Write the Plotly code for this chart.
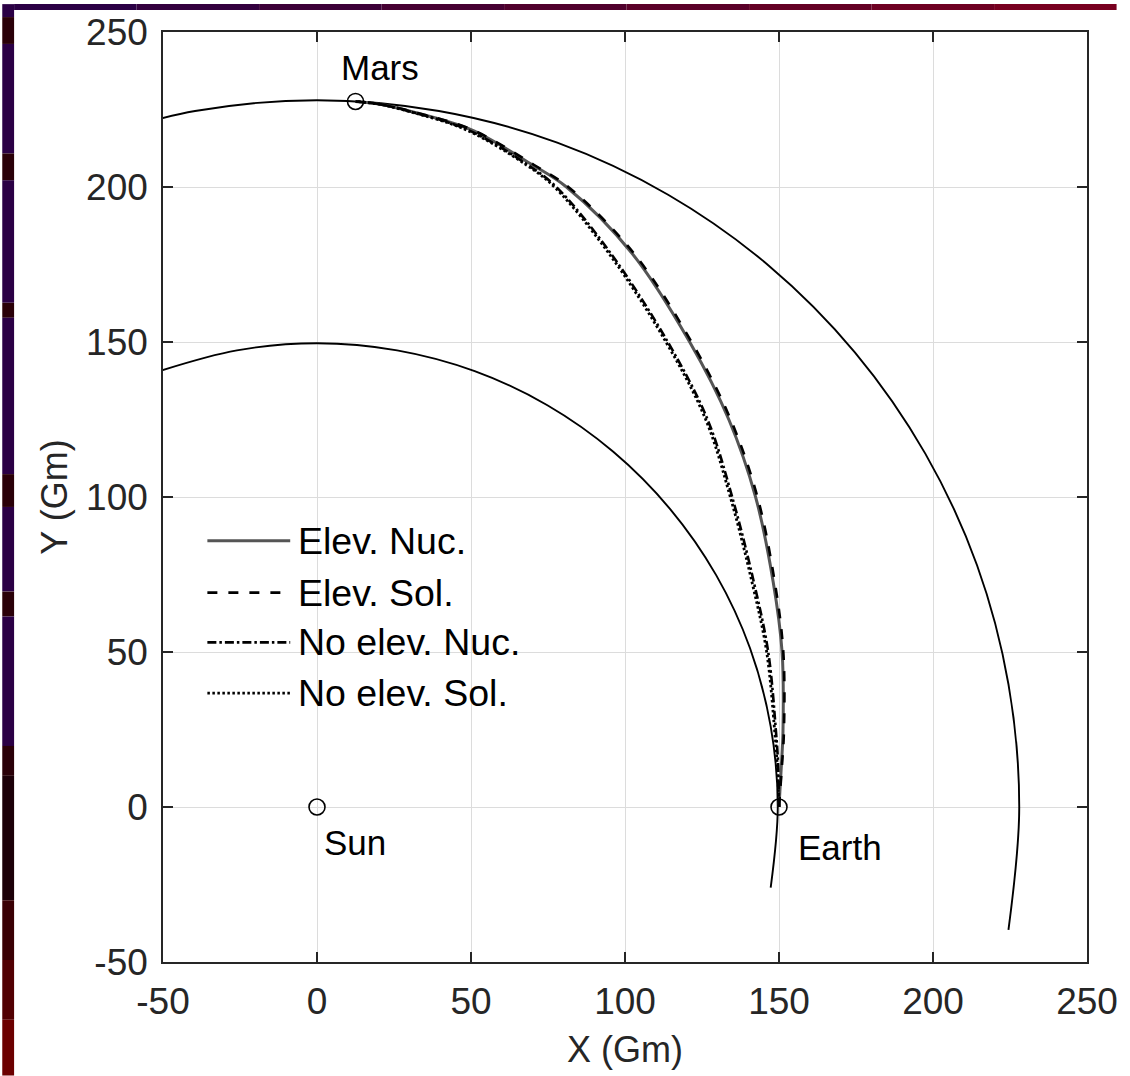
import plotly.graph_objects as go

# ---- data (Gm) ----
earth_orbit_x = [147.3, 149.6, 147.3, 140.6, 129.6, 114.6, 96.2, 74.8, 51.2, 26.0, 0.0, -26.0, -51.2]
earth_orbit_y = [-26.0, 0.0, 26.0, 51.2, 74.8, 96.2, 114.6, 129.6, 140.6, 147.3, 149.6, 147.3, 140.6]

mars_orbit_x = [224.5, 228.0, 224.5, 214.3, 197.5, 174.7, 146.6, 114.0, 78.0, 39.6, 0.0, -39.6, -78.0]
mars_orbit_y = [-39.6, 0.0, 39.6, 78.0, 114.0, 146.6, 174.7, 197.5, 214.3, 224.5, 228.0, 224.5, 214.3]

traj_y = [0.0, 13.9, 24.5, 50.0, 72.7, 100.0, 125.0, 150.0, 178.7, 200.0, 207.1, 218.5, 224.2, 226.7, 227.6]
elev_nuc_x = [150.0, 150.8, 151.3, 151.0, 148.1, 142.4, 133.7, 121.0, 102.2, 81.0, 70.0, 50.0, 31.2, 20.5, 12.5]
elev_sol_x = [150.0, 151.0, 151.6, 151.4, 148.6, 143.0, 134.3, 121.6, 102.8, 81.6, 70.5, 50.3, 31.4, 20.6, 12.5]
noelev_nuc_x = [150.0, 149.7, 149.0, 146.5, 141.8, 134.8, 126.8, 113.9, 95.3, 77.7, 68.5, 48.8, 30.8, 20.4, 12.5]
noelev_sol_x = [150.0, 149.4, 148.6, 146.0, 141.2, 134.2, 126.2, 113.3, 94.7, 77.1, 68.0, 48.3, 30.5, 20.2, 12.5]

bodies = ["Mars", "Sun", "Earth"]
body_x = [12.5, 0.0, 150.0]
body_y = [227.6, 0.0, 0.0]

tick_values = [-50, 0, 50, 100, 150, 200, 250]
tick_labels = ["-50", "0", "50", "100", "150", "200", "250"]

series_names = ["Elev. Nuc.", "Elev. Sol.", "No elev. Nuc.", "No elev. Sol."]

# ---- styling ----
FONT = "Liberation Sans, Arial, sans-serif"
AX = "#262626"
L, R, T, B = 163, 30, 28, 114
W, H = 1130, 1076
PW, PH = W - L - R, H - T - B

def px_x(p):
    return (p - L) / PW

def px_y(p):
    return (H - B - p) / PH

styles = [
    dict(color="#555555", width=3, dash="solid"),
    dict(color="black", width=2.6, dash="10px,11px"),
    dict(color="black", width=2.6, dash="9px,3px,2.5px,3px"),
    dict(color="black", width=2.8, dash="2.5px,2.5px"),
]

fig = go.Figure()

for ox, oy in [(earth_orbit_x, earth_orbit_y), (mars_orbit_x, mars_orbit_y)]:
    fig.add_trace(go.Scatter(x=ox, y=oy, mode="lines", line=dict(color="black", width=1.9, shape="spline"),
                             showlegend=False, hoverinfo="skip"))

for name, xs, st in zip(series_names, [elev_nuc_x, elev_sol_x, noelev_nuc_x, noelev_sol_x], styles):
    fig.add_trace(go.Scatter(x=xs, y=traj_y, mode="lines", name=name,
                             line=dict(color=st["color"], width=st["width"], dash=st["dash"], shape="spline"),
                             showlegend=False))

fig.add_trace(go.Scatter(x=body_x, y=body_y, mode="markers", text=bodies,
                         marker=dict(symbol="circle-open", size=16, color="black", line=dict(width=1.6)),
                         showlegend=False))

# body labels
label_offsets = {"Mars": (7.9, 10.9), "Sun": (12.4, -11.5), "Earth": (19.7, -13.1)}
for name, bx, by in zip(bodies, body_x, body_y):
    dx, dy = label_offsets[name]
    fig.add_annotation(x=bx + dx, y=by + dy, text=name, showarrow=False,
                       font=dict(family=FONT, size=35, color="black"), xanchor="center", yanchor="middle")

# legend drawn as line samples + labels
row_y = [539, 591, 641, 692]
shapes = []
for name, st, ry in zip(series_names, styles, row_y):
    shapes.append(dict(type="line", xref="paper", yref="paper", x0=px_x(208), x1=px_x(292),
                       y0=px_y(ry), y1=px_y(ry), line=dict(color=st["color"], width=st["width"], dash=st["dash"])))
    fig.add_annotation(xref="paper", yref="paper", x=px_x(298), y=px_y(ry), text=name, showarrow=False,
                       xanchor="left", yanchor="middle", font=dict(family=FONT, size=37.5, color="black"))

# window backdrop: dark left and top strips
strip_bands = [(0, 13, "#2b0045"), (13, 40, "#2a0008"), (40, 150, "#2b0045"), (150, 177, "#2a0008"),
               (177, 300, "#2b0045"), (300, 315, "#2a0008"), (315, 472, "#2b0045"), (472, 505, "#2a0008"),
               (505, 590, "#2b0045"), (590, 615, "#2a0008"), (615, 745, "#2b0045"), (745, 775, "#2a0008"),
               (775, 900, "#1c0008"), (900, 960, "#3a0004"), (960, 1020, "#520002"), (1020, 1076, "#6c0000")]
for y0, y1, c in strip_bands:
    shapes.append(dict(type="rect", xref="paper", yref="paper", x0=px_x(0), x1=px_x(12),
                       y0=px_y(y1), y1=px_y(y0), fillcolor=c, line=dict(width=0), layer="below"))
top_cols = ["#2b0045", "#33003e", "#3c0038", "#460032", "#50002c", "#5a0028", "#640024", "#6e0022", "#780020"]
n = len(top_cols)
for i, c in enumerate(top_cols):
    shapes.append(dict(type="rect", xref="paper", yref="paper", x0=px_x(12 + i * (W - 12) / n),
                       x1=px_x(12 + (i + 1) * (W - 12) / n), y0=px_y(6), y1=px_y(0),
                       fillcolor=c, line=dict(width=0), layer="below"))

axis_common = dict(range=[-50, 250], tickvals=tick_values, ticktext=tick_labels, ticks="inside", ticklen=10,
                   tickwidth=1.5, tickcolor=AX, showline=True, linecolor=AX, linewidth=1.5, mirror="ticks",
                   showgrid=True, gridcolor="#dcdcdc", gridwidth=1, zeroline=False,
                   ticklabeloverflow="allow", tickfont=dict(family=FONT, size=37, color=AX))

fig.update_layout(
    width=W, height=H,
    margin=dict(l=L, r=R, t=T, b=B),
    paper_bgcolor="white", plot_bgcolor="white",
    xaxis=dict(**axis_common, ticklabelstandoff=6,
               title=dict(text="X (Gm)", font=dict(family=FONT, size=36, color=AX), standoff=16)),
    yaxis=dict(**axis_common, ticklabelstandoff=6,
               title=dict(text="Y (Gm)", font=dict(family=FONT, size=36, color=AX), standoff=8)),
    shapes=shapes,
    showlegend=False,
)

fig.write_html("out.html")
